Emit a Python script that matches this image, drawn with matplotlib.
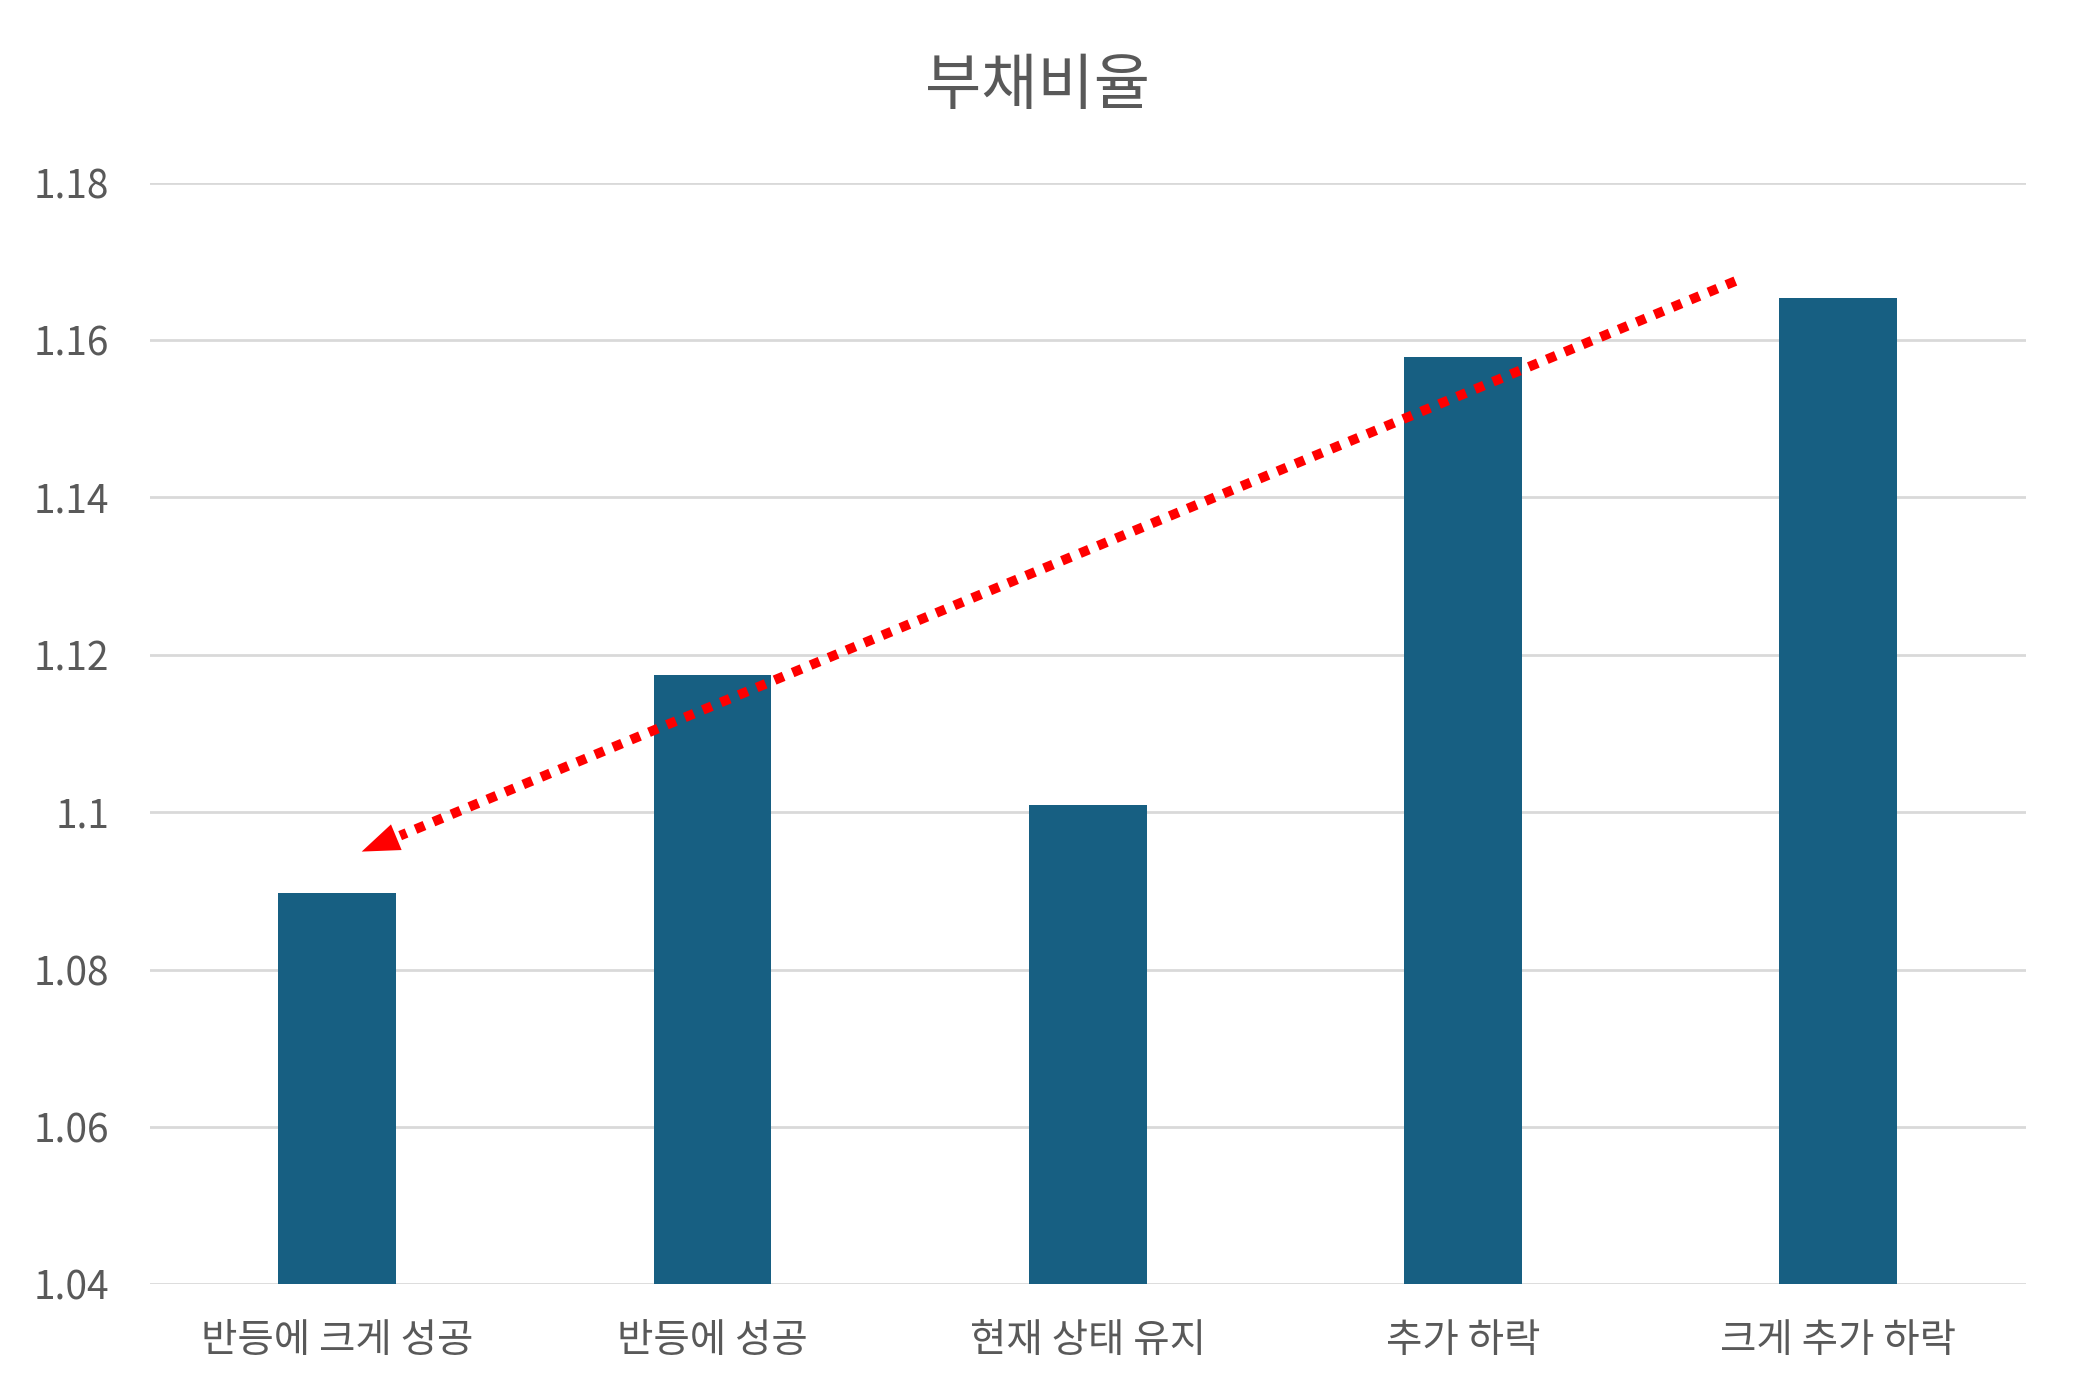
import numpy as np
import matplotlib.pyplot as plt

plt.rcParams['font.family'] = ['Noto Sans CJK KR', 'DejaVu Sans']

title = '부채비율'
categories = ['반등에 크게 성공', '반등에 성공', '현재 상태 유지', '추가 하락', '크게 추가 하락']
values = [1.0898, 1.1174, 1.1009, 1.1579, 1.1653]
yticks = [1.04, 1.06, 1.08, 1.1, 1.12, 1.14, 1.16, 1.18]
ytick_labels = ['1.04', '1.06', '1.08', '1.1', '1.12', '1.14', '1.16', '1.18']

# trend arrow (data coords): start -> tip
arrow_start = (3.726, 1.1675)
arrow_tip = (0.065, 1.095)

text_color = '#595959'
bar_color = '#175F82'

fig = plt.figure(figsize=(20.76, 13.97), dpi=100)
ax = fig.add_axes([0.0721, 0.0806, 0.9037, 0.7886])

x = np.arange(len(categories))
ax.bar(x, values, width=0.314, color=bar_color, zorder=3)

ax.set_xlim(-0.5, len(categories) - 0.5)
ax.set_ylim(yticks[0], yticks[-1])
ax.set_yticks(yticks)
ax.set_yticklabels(ytick_labels)
ax.set_xticks(x)
ax.set_xticklabels(categories)

ax.grid(axis='y', color='#D9D9D9', linewidth=2, zorder=0)
ax.set_axisbelow(True)
for s in ax.spines.values():
    s.set_visible(False)
ax.tick_params(axis='both', length=0, colors=text_color)
ax.tick_params(axis='y', labelsize=28, pad=29)
ax.tick_params(axis='x', labelsize=28.5, pad=26)

fig.text(0.5, 0.938, title, ha='center', va='center', fontsize=44, color=text_color)

# dotted shaft, then a solid head
sx, sy = arrow_start
tx, ty = arrow_tip
def along(f):
    return tx + (sx - tx) * (1 - f), ty + (sy - ty) * (1 - f)

mx, my = along(0.972)
ax.plot([sx, mx], [sy, my], color='#FF0000', linewidth=7,
        linestyle=(0, (1, 1)), dash_capstyle='butt', zorder=5)
ax.annotate('', xy=(tx, ty), xytext=along(0.93),
            arrowprops=dict(arrowstyle='-|>,head_length=2.7,head_width=1.0',
                            color='#FF0000', lw=0, shrinkA=0, shrinkB=0),
            zorder=6)

fig.savefig('out.png', dpi=100, facecolor='white')
